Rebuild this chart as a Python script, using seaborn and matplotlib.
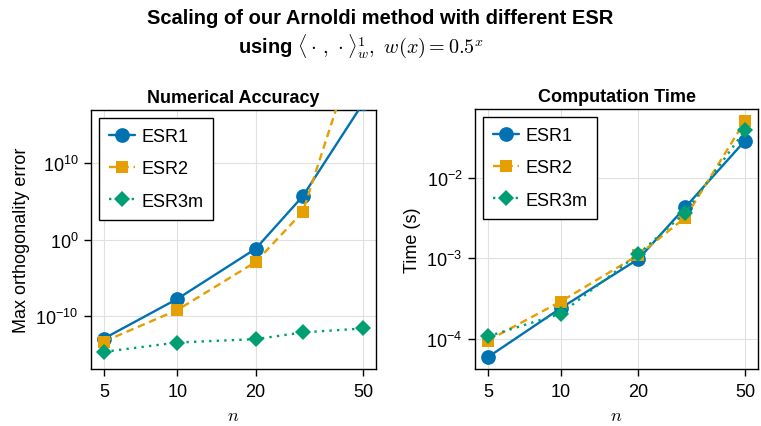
import numpy as np
import pandas as pd
import matplotlib
matplotlib.use("Agg")
import matplotlib.pyplot as plt
import seaborn as sns

# ---------------- data ----------------
n_values = [5, 10, 20, 30, 50]
methods = ["ESR1", "ESR2", "ESR3m"]

err_esr1 = [1.0e-13, 1.6e-8, 6.0e-2, 4.8e5, 8.0e17]
err_esr2 = [4.0e-14, 5.6e-10, 1.1e-3, 4.2e3, 1.0e28]
err_esr3m = [1.8e-15, 3.0e-14, 8.3e-14, 6.3e-13, 2.1e-12]

time_esr1 = [5.9e-5, 2.4e-4, 9.8e-4, 4.3e-3, 2.9e-2]
time_esr2 = [9.5e-5, 2.9e-4, 1.1e-3, 3.2e-3, 5.1e-2]
time_esr3m = [1.07e-4, 2.05e-4, 1.13e-3, 3.7e-3, 3.9e-2]

x_ticks = [5, 10, 20, 50]
err_yticks = [1e-10, 1e0, 1e10]
time_yticks = [1e-4, 1e-3, 1e-2]

colors = {"ESR1": "#0072B2", "ESR2": "#E69F00", "ESR3m": "#009E73"}
markers = {"ESR1": "o", "ESR2": "s", "ESR3m": "D"}
marker_sizes = {"o": 10.6, "s": 8.6, "D": 7.8}
dashes = {"ESR1": "", "ESR2": (3.2, 2.0), "ESR3m": (1.0, 2.2)}

def make_df(a, b, c):
    rows = []
    for m, vals in zip(methods, [a, b, c]):
        for x, v in zip(n_values, vals):
            rows.append({"n": x, "value": v, "method": m})
    return pd.DataFrame(rows)

df_err = make_df(err_esr1, err_esr2, err_esr3m)
df_time = make_df(time_esr1, time_esr2, time_esr3m)

# ---------------- style ----------------
sns.set_theme(style="white")
plt.rcParams['font.family'] = ['Liberation Sans', 'DejaVu Sans']
plt.rcParams['text.color'] = 'black'
plt.rcParams['axes.labelcolor'] = 'black'
plt.rcParams['axes.edgecolor'] = 'black'
plt.rcParams['axes.linewidth'] = 1.0
plt.rcParams['xtick.bottom'] = True
plt.rcParams['ytick.left'] = True
plt.rcParams['xtick.direction'] = 'out'
plt.rcParams['ytick.direction'] = 'out'
plt.rcParams['xtick.major.size'] = 5
plt.rcParams['ytick.major.size'] = 5
plt.rcParams['xtick.major.width'] = 1.0
plt.rcParams['ytick.major.width'] = 1.0
plt.rcParams['xtick.color'] = 'black'
plt.rcParams['ytick.color'] = 'black'

fs_tick = 13
fs_title = 13

fig = plt.figure(figsize=(7.61, 4.27), dpi=100)
W, H = 761, 427
ax1 = fig.add_axes([91 / W, (H - 370) / H, 285 / W, 259 / H])
ax2 = fig.add_axes([475 / W, (H - 370) / H, 283 / W, 260 / H])

fwd = lambda x: np.log10(np.asarray(x, dtype=float) + 1.0)
inv = lambda y: 10.0 ** np.asarray(y, dtype=float) - 1.0

t_lo, t_hi = np.log10(min(n_values) + 1), np.log10(max(n_values) + 1)
pad = 0.05 * (t_hi - t_lo)
xlim = (10 ** (t_lo - pad) - 1, 10 ** (t_hi + pad) - 1)

for ax, df, ylabel, title, yticks, ylab_x in [
    (ax1, df_err, "Max orthogonality error", "Numerical Accuracy", err_yticks, -0.215),
    (ax2, df_time, "Time (s)", "Computation Time", time_yticks, -0.19),
]:
    ax.set_xscale('function', functions=(fwd, inv))
    ax.set_yscale('log')
    sns.lineplot(data=df, x="n", y="value", hue="method", style="method",
                 palette=colors, markers=markers, dashes=dashes,
                 linewidth=1.7, markersize=10, markeredgewidth=0,
                 ax=ax, zorder=3)
    for ln in ax.lines:
        mk = ln.get_marker()
        if mk in marker_sizes:
            ln.set_markersize(marker_sizes[mk])
    ax.set_xlim(*xlim)
    ax.set_xticks(x_ticks)
    ax.set_xticklabels([str(t) for t in x_ticks])
    ax.xaxis.set_minor_locator(matplotlib.ticker.NullLocator())
    ax.set_yticks(yticks)
    ax.yaxis.set_minor_locator(matplotlib.ticker.NullLocator())
    ax.tick_params(axis='x', labelsize=fs_tick, pad=5)
    ax.tick_params(axis='y', labelsize=fs_tick, pad=4)
    ax.grid(True, which='major', color='#e0e0e0', linewidth=0.8, zorder=0)
    ax.set_axisbelow(True)
    ax.set_xlabel("$n$", fontsize=fs_tick, math_fontfamily='cm')
    ax.xaxis.set_label_coords(0.5, -0.148)
    ax.set_ylabel(ylabel, fontsize=fs_tick)
    ax.yaxis.set_label_coords(ylab_x, 0.5)
    ax.set_title(title, fontsize=fs_title, fontweight='bold', pad=6)
    leg = ax.legend(loc='upper left', fontsize=fs_tick, frameon=True, fancybox=False,
                    edgecolor='black', framealpha=1, handlelength=1.45,
                    handletextpad=0.35, labelspacing=0.85, borderpad=0.55,
                    borderaxespad=0.45)
    leg.get_frame().set_linewidth(1.0)
    for lh in leg.get_lines():
        mk = lh.get_marker()
        if mk in marker_sizes:
            lh.set_markersize(marker_sizes[mk])
    for s in ax.spines.values():
        s.set_visible(True)
        s.set_color('black')

# left axis: fixed y range
ax1.set_ylim(1e-17, 1e17)
ax1.set_xlim(*xlim)

fig.text(0.5, 1 - 18 / H, "Scaling of our Arnoldi method with different ESR",
         ha='center', va='center', fontsize=14.5, fontweight='bold', color='black')
fig.text(361 / W, 1 - 46 / H, r"using $\langle \cdot\,,\, \cdot \rangle_w^1,\ w(x) = 0.5^x$",
         ha='center', va='center', fontsize=14.5, fontweight='bold', color='black',
         math_fontfamily='cm')

fig.savefig("out.png", dpi=100)
